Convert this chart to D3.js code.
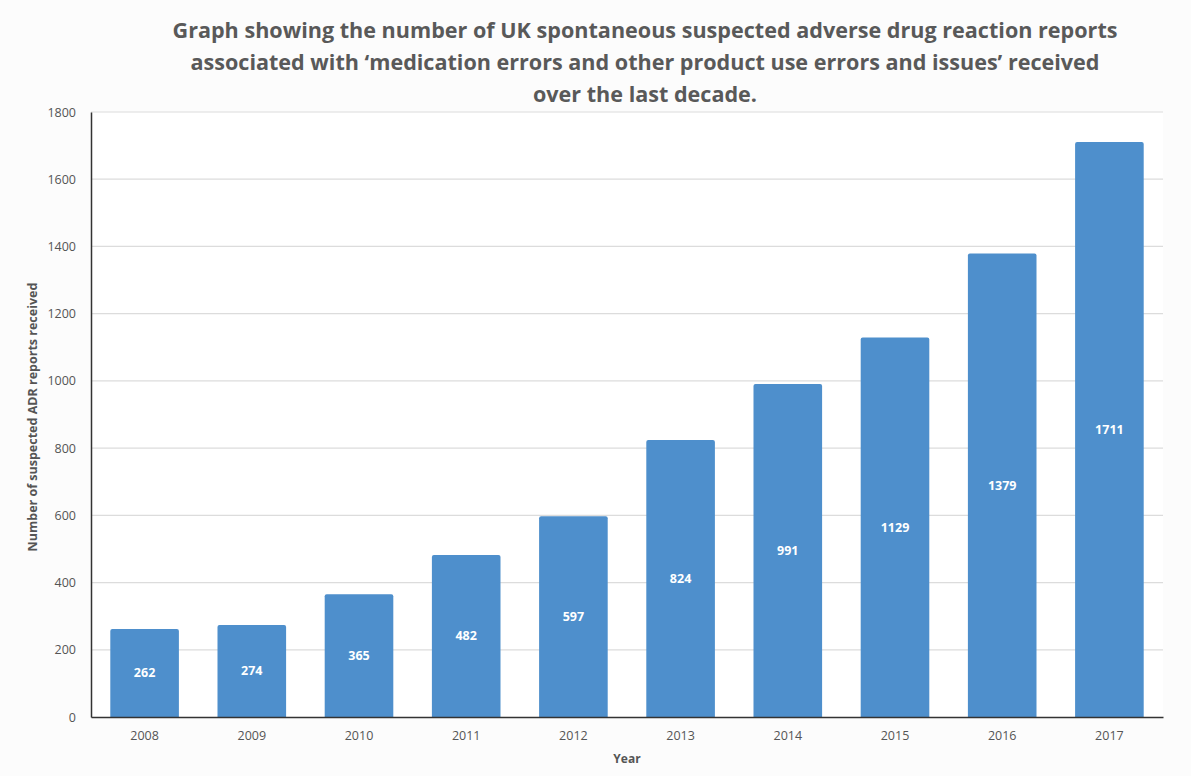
<!DOCTYPE html>
<html>
<head>
<meta charset="utf-8">
<script src="https://cdn.jsdelivr.net/npm/d3@7"></script>
<style>
  body { margin: 0; background: #fcfcfc; }
  text { font-family: "Open Sans", sans-serif; }
</style>
</head>
<body>
<div id="chart"></div>
<script>
var years = ["2008","2009","2010","2011","2012","2013","2014","2015","2016","2017"];
var reports = [262, 274, 365, 482, 597, 824, 991, 1129, 1379, 1711];
var yTicks = [0, 200, 400, 600, 800, 1000, 1200, 1400, 1600, 1800];
var titleLines = [
  "Graph showing the number of UK spontaneous suspected adverse drug reaction reports",
  "associated with \u2018medication errors and other product use errors and issues\u2019 received",
  "over the last decade."
];

var width = 1191, height = 776;
var margin = {top: 112, right: 28, bottom: 59, left: 91};

var svg = d3.select("#chart").append("svg")
  .attr("width", width)
  .attr("height", height);

svg.append("rect").attr("width", width).attr("height", height).attr("fill", "#fcfcfc");

var x = d3.scaleBand()
  .domain(years)
  .range([margin.left, width - margin.right])
  .paddingInner(0.36)
  .paddingOuter(0.18);

var y = d3.scaleLinear()
  .domain([0, 1800])
  .range([height - margin.bottom, margin.top]);

// plot background
svg.append("rect")
  .attr("x", margin.left).attr("y", margin.top)
  .attr("width", width - margin.left - margin.right)
  .attr("height", height - margin.top - margin.bottom)
  .attr("fill", "#ffffff");

// grid
svg.append("g").selectAll("line")
  .data(yTicks.slice(1))
  .enter().append("line")
  .attr("x1", margin.left).attr("x2", width - margin.right)
  .attr("y1", function(d) { return y(d); })
  .attr("y2", function(d) { return y(d); })
  .attr("stroke", "#dcdcdc")
  .attr("stroke-width", 1.2);

// bars, rounded top only
svg.append("g").selectAll("path")
  .data(reports)
  .enter().append("path")
  .attr("fill", "#4e8fcc")
  .attr("d", function(d, i) {
    var x0 = x(years[i]), w = x.bandwidth(), y0 = y(d), y1 = y(0), r = 2;
    return "M" + x0 + "," + y1 + "V" + (y0 + r) + "Q" + x0 + "," + y0 + " " + (x0 + r) + "," + y0 +
      "H" + (x0 + w - r) + "Q" + (x0 + w) + "," + y0 + " " + (x0 + w) + "," + (y0 + r) + "V" + y1 + "Z";
  });

// value labels
svg.append("g").selectAll("text")
  .data(reports)
  .enter().append("text")
  .attr("x", function(d, i) { return x(years[i]) + x.bandwidth() / 2; })
  .attr("y", function(d) { return (y(d) + y(0)) / 2; })
  .attr("dy", "0.35em")
  .attr("text-anchor", "middle")
  .attr("fill", "#ffffff")
  .attr("font-size", "12.5px")
  .attr("font-weight", "bold")
  .text(function(d) { return d; });

// axes
var yAxis = svg.append("g")
  .attr("transform", "translate(" + margin.left + ",0)")
  .call(d3.axisLeft(y).tickValues(yTicks).tickFormat(d3.format("d")).tickSize(0).tickPadding(15));
yAxis.select(".domain").attr("stroke", "#333").attr("stroke-width", 1.5);
yAxis.selectAll("text").attr("font-size", "12.5px").attr("fill", "#555")
  .attr("font-family", "'Open Sans', sans-serif");

var xAxis = svg.append("g")
  .attr("transform", "translate(0," + y(0) + ")")
  .call(d3.axisBottom(x).tickSize(0).tickPadding(14));
xAxis.select(".domain").attr("stroke", "#333").attr("stroke-width", 1.5);
xAxis.selectAll("text").attr("font-size", "12.5px").attr("fill", "#555")
  .attr("font-family", "'Open Sans', sans-serif");

// axis titles
svg.append("text")
  .attr("x", (margin.left + width - margin.right) / 2)
  .attr("y", 763)
  .attr("text-anchor", "middle")
  .attr("font-size", "12px")
  .attr("font-weight", "bold")
  .attr("fill", "#555")
  .text("Year");

svg.append("text")
  .attr("transform", "translate(37," + 417 + ") rotate(-90)")
  .attr("text-anchor", "middle")
  .attr("font-size", "12.5px")
  .attr("font-weight", "bold")
  .attr("fill", "#555")
  .text("Number of suspected ADR reports received");

// title
var titleWidths = [945, 909, 224];
svg.append("g").selectAll("text")
  .data(titleLines)
  .enter().append("text")
  .attr("x", 645)
  .attr("y", function(d, i) { return 38 + i * 32; })
  .attr("text-anchor", "middle")
  .attr("font-size", "22px")
  .attr("font-weight", "bold")
  .attr("fill", "#595959")
  .attr("textLength", function(d, i) { return titleWidths[i]; })
  .attr("lengthAdjust", "spacingAndGlyphs")
  .text(function(d) { return d; });
</script>
</body>
</html>
